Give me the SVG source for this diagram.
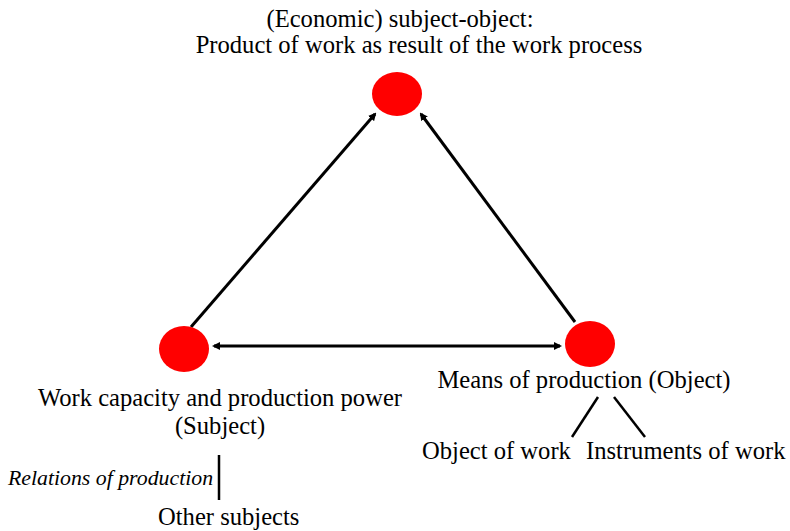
<svg xmlns="http://www.w3.org/2000/svg" width="790" height="531" viewBox="0 0 790 531">
<style>
text{font-family:"Liberation Serif","Times New Roman",serif;font-size:24.6px;fill:#000}
.n{fill:#ff0000}
.c{stroke:#000;stroke-width:3;fill:none}
.l{stroke:#000;stroke-width:2.5;fill:none}
.it{font-style:italic;font-size:21.8px}
</style>
<defs>
<marker id="ah" markerWidth="8" markerHeight="8" refX="6" refY="4" orient="auto-start-reverse" markerUnits="userSpaceOnUse">
<path d="M0,0 L8,4 L0,8 Z" fill="#000"/>
</marker>
</defs>
<rect width="790" height="531" fill="#fff"/>
<g id="connectors">
<line class="c" x1="191" y1="327" x2="375" y2="114" marker-end="url(#ah)"/>
<line class="c" x1="575" y1="322" x2="421" y2="114" marker-end="url(#ah)"/>
<line class="c" x1="214" y1="346" x2="560" y2="346" marker-start="url(#ah)" marker-end="url(#ah)"/>
<line class="l" x1="598" y1="397" x2="572" y2="437"/>
<line class="l" x1="614" y1="397" x2="645" y2="437"/>
<line class="l" x1="219" y1="455" x2="219" y2="500"/>
</g>
<g id="top">
<ellipse class="n" cx="397" cy="94" rx="25" ry="22"/>
<text x="400" y="27" text-anchor="middle">(Economic) subject-object:</text>
<text x="419" y="53" text-anchor="middle">Product of work as result of the work process</text>
</g>
<g id="subject">
<ellipse class="n" cx="184" cy="349" rx="25" ry="23"/>
<text x="220" y="406" text-anchor="middle">Work capacity and production power</text>
<text x="220" y="434" text-anchor="middle">(Subject)</text>
</g>
<g id="object">
<ellipse class="n" cx="590" cy="344" rx="25" ry="23"/>
<text x="584" y="388" text-anchor="middle">Means of production (Object)</text>
</g>
<g id="objectofwork"><text x="422" y="459">Object of work</text></g>
<g id="instruments"><text x="586" y="459">Instruments of work</text></g>
<g id="relations"><text class="it" x="8" y="485">Relations of production</text></g>
<g id="others"><text x="158" y="525">Other subjects</text></g>
</svg>
